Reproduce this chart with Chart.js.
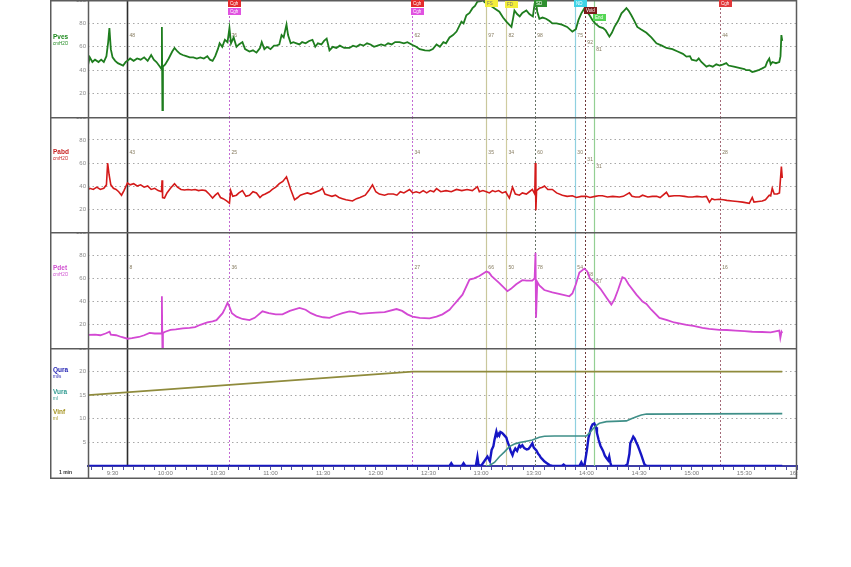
<!DOCTYPE html>
<html lang="en">
  <head>
    <meta charset="UTF-8" />
    <meta name="viewport" content="width=device-width, initial-scale=1.0" />
    <title>Urodynamics</title>
    <script src="https://cdn.jsdelivr.net/npm/chart.js@4.4.0/dist/chart.umd.min.js"></script>
    <style>
      html, body { margin: 0; padding: 0; background: #fff; }
      body { width: 851px; height: 567px; position: relative; overflow: hidden; }
      .panel { position: absolute; left: 50px; width: 748px; }
      #p1 { top: 0; height: 117px; }
      #p2 { top: 117px; height: 115px; }
      #p3 { top: 232px; height: 116px; }
      #p4 { top: 348px; height: 131px; }
    </style>
  </head>
  <body>
    <div class="panel" id="p1"><canvas id="c1"></canvas></div>
    <div class="panel" id="p2"><canvas id="c2"></canvas></div>
    <div class="panel" id="p3"><canvas id="c3"></canvas></div>
    <div class="panel" id="p4"><canvas id="c4"></canvas></div>
    <script>
      // time in seconds (x axis), pressures in cmH2O, flow ml/s, volume ml
      const tMin = 556;
      const tMax = 960;

      const pvesTime = [555.8, 557, 558.5, 560, 562, 563.5, 565, 566.5, 567.5, 568.2, 569, 570, 571.5, 573, 574.5, 576, 577.5, 578.5, 580, 582, 584, 586, 588, 590, 592, 593.5, 595, 597, 597.9, 598.1, 598.4, 598.7, 600, 602, 604, 605.3, 607, 608.5, 610, 612, 614, 616, 618, 620, 622, 624, 625.5, 627, 628.5, 630, 631, 632.5, 634, 635.5, 636.6, 637.5, 639, 640.6, 642, 644, 645.5, 648, 650, 652, 654, 655, 656.5, 658, 660, 662, 663.4, 665, 666.3, 667.5, 669.1, 670, 671.5, 673, 674.8, 676.5, 678, 680, 682, 683.9, 685.5, 687, 689, 690.5, 692, 693.6, 695.5, 697.5, 699.5, 702, 705, 707, 709, 711, 713, 715, 717, 719, 721, 723, 725, 727, 729, 731, 733.5, 736, 738, 740.9, 743, 745, 748, 750.6, 752.5, 754.6, 756.5, 758.5, 760, 762, 764, 766, 768.8, 770, 771.6, 773.4, 775.1, 776.5, 777.9, 780, 780.8, 782, 783.6, 785.5, 787.5, 790.4, 792.5, 794.4, 796, 797.3, 798.3, 799, 800.5, 802, 803.5, 805.8, 807.5, 809.5, 810.5, 811.2, 812, 813.2, 815, 817, 819, 820.6, 823, 826, 829, 832, 834, 835.5, 837.1, 838.9, 840.3, 841.8, 843.4, 845, 847.4, 849.5, 851, 853.1, 854.5, 856, 858, 860, 861.5, 862.8, 864, 865.6, 867, 869, 871, 874.2, 877, 879.9, 883, 885.6, 889, 892, 895, 897, 899, 900, 902.7, 904, 905.5, 908.4, 910, 912, 914, 916, 918, 919.7, 921, 924, 927, 930, 931.1, 933, 934.5, 936, 938, 940.2, 942, 943, 944.2, 945, 946, 948, 949.9, 950.6, 951.1, 951.6];
      const pvesVal = [43, 51, 47, 49, 47, 49, 47, 52, 64, 76, 58, 51, 48, 46, 45, 44, 47, 48, 50, 48, 50, 49, 51, 48, 53, 49, 47, 43, 41, 77, 6, 43, 45, 50, 56, 59, 56, 54, 53, 52, 51, 51, 50, 51, 50, 52, 49, 48, 52, 58, 63, 60, 66, 64, 76, 63, 68, 60, 62, 64, 58, 56, 57, 55, 59, 64, 58, 60, 58, 61, 61, 62, 70, 68, 79, 70, 63, 64, 63, 62, 64, 63, 65, 66, 60, 63, 62, 65, 67, 57, 60, 59, 61, 59, 59, 61, 60, 62, 61, 63, 62, 60, 61, 62, 61, 63, 62, 64, 64, 63, 64, 61.5, 60, 58, 57, 56.7, 58, 62, 60, 64, 63, 68, 70, 73, 81.5, 80, 87, 89, 93, 95, 98.6, 99, 100, 98, 97, 95, 93, 90, 85, 81.5, 79, 77, 85, 91, 88, 86, 89, 91, 88, 86, 97, 99, 90, 84, 85, 84, 82, 80, 80, 79, 77, 73, 75, 83, 88.6, 93, 90, 87, 83, 80, 77, 76, 74, 68.7, 72, 77, 82, 88.6, 91, 93, 91, 87, 83, 77, 75, 72, 68, 63, 61, 59, 58, 56, 54, 51.6, 52, 49, 48, 50, 47, 43, 44, 43, 45, 44, 45, 46, 44, 43, 42, 41, 40, 40, 38.5, 39, 40, 41.6, 43, 47, 50, 45, 47, 46, 47, 52, 70, 65];

      const pabdTime = [555.8, 557, 559, 561, 563, 565, 566.5, 567.2, 568, 569, 570.5, 572, 573.5, 575.1, 576.5, 578.5, 580, 582, 584, 586, 588, 590, 592, 594, 596, 597.9, 598.2, 598.5, 599.6, 601, 603, 605.3, 607, 609, 611, 613, 615, 617, 619, 621, 623, 625, 627, 628.5, 630, 631.5, 633, 635, 636.6, 637.3, 638.5, 640.6, 642, 644, 646, 648, 650, 652, 654, 655.4, 657, 659.4, 661, 663, 665, 667, 669.1, 670, 671.5, 673.7, 675.5, 677, 679, 681, 683, 686.2, 688, 689.6, 691, 693, 695, 697, 699, 701, 703, 706.7, 709, 711, 714, 716, 718.1, 720, 722, 725, 727, 730, 732, 734, 736, 739.2, 741, 743, 745, 747, 749, 751, 753, 754.6, 757, 760, 763, 766, 769, 772, 775, 777.9, 779, 781, 783, 784.7, 786.5, 788, 790, 792, 794, 796.1, 797.9, 799.5, 801.8, 803.5, 805.8, 807.5, 809.2, 810.6, 810.9, 811.2, 811.6, 813.2, 815, 816.1, 818, 820.6, 823, 826.3, 829, 832, 834.3, 837, 840, 842, 845, 847, 849.1, 852, 855, 858.8, 861, 864.5, 866, 868, 870.2, 872, 875, 877.6, 880, 882, 885.6, 887, 890, 893, 896, 898, 900.4, 903, 906, 908.4, 910.1, 911.5, 913, 915.7, 918, 920, 923.1, 926, 929, 932.8, 934.5, 935.5, 938, 940.2, 942, 944.2, 945, 945.9, 947, 948.7, 950, 951.1, 951.6];
      const pabdVal = [36.5, 38, 37, 39, 37, 38, 41, 60, 50, 41, 38, 37, 35, 32, 36, 42.6, 41, 42, 40, 41, 39, 40, 37, 38, 36, 35, 45, 30, 29.6, 34, 38, 42, 39, 37, 36.5, 37, 36.5, 37, 36, 36.5, 36, 33, 29.6, 32, 34, 30, 29, 27, 25, 36, 31, 32, 34, 36, 31, 32, 35, 34, 30, 32, 33, 35, 37, 39, 42, 44, 48, 44, 37, 28, 30, 32, 33, 34, 33, 35, 36, 38, 33, 32, 31, 32, 30, 29, 28, 27, 29, 30, 32, 36, 41, 35, 33, 32, 33, 33, 32, 35, 34, 37, 34, 35, 34, 36, 34, 36, 35, 37.7, 35, 36, 35, 37, 36, 37, 36, 39.4, 35, 36, 35, 34, 36, 35, 36, 34, 35, 29.5, 39, 33, 32, 34, 33, 35, 37, 33, 60, 19, 36, 38, 39, 40, 37, 37, 34, 32, 31, 31.5, 30, 31, 31, 30, 31, 31.5, 31.5, 30.5, 31, 30.5, 31, 34, 31, 30.5, 30.5, 32, 30.5, 31, 31, 30, 34.5, 31, 31.5, 31.5, 31, 30.5, 30.5, 31, 30.5, 31, 26, 29, 28, 28.5, 28, 27.5, 27, 26.5, 26, 25, 30, 26, 26.5, 27, 28, 32, 31.5, 38, 33, 33, 34, 57, 47];

      const pdetTime = [555.8, 560, 563, 566, 568.3, 569, 572, 575, 578.5, 581, 585, 588, 591.1, 594, 597.9, 598.1, 598.4, 598.7, 600, 603, 606, 610, 613.9, 617, 620, 624, 627, 629.2, 632.7, 634, 635.5, 636.5, 638, 640.6, 644, 648, 651, 655.4, 659, 663, 666.8, 671, 676.5, 680, 683, 686.2, 690, 693.6, 697, 701, 705, 708, 711, 716, 720, 725, 731.8, 735, 738, 740.9, 745, 750.6, 754.6, 758, 762, 763.7, 766, 769.4, 773.4, 776, 779, 781, 783, 784.5, 786, 790.4, 795, 797, 800, 803.5, 806, 809.2, 810.5, 811, 811.3, 812, 813.2, 816, 820.6, 825, 830.3, 832, 834, 836, 838.9, 840.5, 842, 845.7, 848, 851.4, 854.2, 856, 858, 860.5, 862, 864, 868.5, 872, 874.2, 877, 881.6, 886, 890, 897, 901, 906.1, 910, 915.7, 920, 925, 930, 934.5, 940, 945, 949.9, 950.5, 951.2, 951.6];
      const pdetVal = [11.3, 11.5, 11, 12.5, 14, 11.5, 11, 9.5, 8, 8.5, 9.5, 11, 13, 12.5, 12.5, 44.6, 0, 13, 14, 15.6, 16, 17, 17.4, 18, 20, 22, 23, 24, 30, 34, 39, 36, 30, 27, 25, 24, 26, 31.6, 30, 29, 29, 32, 34.5, 33, 30, 28, 26.5, 26, 28, 30, 31.6, 31, 29.5, 30, 30.5, 31, 33.6, 32, 29, 27, 26, 25.5, 27, 29, 33, 36, 40, 46, 59, 60, 62, 64, 66, 65, 62, 56, 49, 51, 55, 58.5, 58, 58, 60, 82, 26, 57, 54, 50, 48, 46.5, 44.6, 47, 55, 65, 68.4, 66, 60, 55, 51, 43.5, 37.4, 42, 50, 61, 60, 55, 46, 40, 38, 33, 26, 24, 22, 20, 19, 17.4, 16.5, 15.6, 15.5, 15, 14.5, 14, 13.8, 13.5, 15, 8.7, 14, 13];

      const quraTime = [555.8, 762, 763, 764, 769, 770, 771, 777, 777.9, 778.5, 780, 783.6, 785, 786, 787, 787.6, 788.2, 788.7, 789.3, 790, 790.4, 791, 792, 793, 794.4, 795, 796.1, 797, 797.9, 798.5, 799.5, 800.5, 801.8, 802.5, 803.5, 804.6, 806, 807, 808, 809.2, 810, 811.5, 812.5, 813.2, 814, 815, 816, 817.5, 819, 820.6, 826, 827, 828, 836, 837.1, 838, 839, 840.3, 841.2, 842.8, 843.5, 844.5, 845.5, 846, 847, 848, 849.5, 850.5, 851.4, 852.4, 853, 853.6, 854.2, 862, 863.4, 864.5, 865, 866, 866.7, 867.5, 868.3, 869.2, 870.2, 871.3, 872.2, 873, 874.2, 951.6];
      const quraVal = [0, 0, 0.6, 0, 0, 0.6, 0, 0, 1.9, 0.3, 0, 2, 1, 3.4, 4.2, 5.5, 6.5, 7.3, 6.4, 6.8, 6.5, 7.2, 7, 6.6, 6, 5.2, 4.1, 3, 2.3, 3, 3.7, 3.2, 4.4, 4, 4.4, 3.8, 3.5, 3.6, 4.1, 4.8, 3.9, 3.3, 2.6, 2.3, 1.8, 1.4, 1, 0.6, 0.2, 0, 0, 0.3, 0, 0, 0.8, 0.1, 0.4, 3.4, 6, 8.3, 8.8, 9, 8.2, 7, 5.5, 4.3, 3.2, 2.2, 1.7, 1.2, 2, 0.8, 0, 0, 0.4, 2.6, 4.8, 5.6, 6.2, 5.8, 5.1, 4.4, 3.4, 2.3, 1.3, 0.4, 0, 0];

      const vuraTime = [783, 784.7, 787.6, 790.4, 793.3, 796.1, 799, 801.8, 805.8, 809.2, 813.2, 816.1, 821.8, 840, 841.7, 843.4, 845.7, 847.4, 851.4, 862.8, 865.6, 868.5, 871.3, 874.2, 904.4, 951.6];
      const vuraVal = [0, 2, 15, 39, 60, 82, 93, 99, 105, 110, 122, 126, 127, 127, 140, 155, 172, 181, 188, 191, 200, 209, 216, 220, 221, 222];

      const vinfTime = [555.8, 740.9, 951.6];
      const vinfVal = [300, 400, 400];

      const eventTimes = [578.5, 636.6, 740.9, 783.0, 794.4, 810.9, 833.7, 839.4, 844.5, 916.3];
      const eventNames = ["", "Cgh", "Cgh", "FS", "FD", "SD", "ND", "Void", "End", "Cgh"];

      const pTicks = [20, 40, 60, 80, 100];
      const qTicks = [5, 10, 15, 20, 25];

      // how each event line looks, same order as eventTimes
      const eventStyle = [
        { color: "#2c2c2c", width: 1.6, dash: [], marks: [] },
        { color: "#c46ad4", width: 1, dash: [2, 2], marks: [["#e42a2a", 0, "#fff"], ["#e052e0", 8, "#fff"]] },
        { color: "#c46ad4", width: 1, dash: [2, 2], marks: [["#e42a2a", 0, "#fff"], ["#e052e0", 8, "#fff"]] },
        { color: "#c9c79c", width: 1.2, dash: [], marks: [["#f2ee3a", 0, "#777"]] },
        { color: "#cfcca0", width: 1.2, dash: [], marks: [["#f2ee3a", 1, "#777"]] },
        { color: "#687468", width: 1, dash: [2, 2], marks: [["#2f8f2f", 0, "#fff"]] },
        { color: "#8fd0e0", width: 1.2, dash: [], marks: [["#3fd3e6", 0, "#fff"]] },
        { color: "#6e3838", width: 1, dash: [2, 2], marks: [["#7c1c1c", 7, "#fff"]] },
        { color: "#93cf93", width: 1.2, dash: [], marks: [["#55d655", 14, "#fff"]] },
        { color: "#a46a78", width: 1, dash: [2, 2], marks: [["#e2383a", 0, "#fff"]] },
      ];
      const labelDrop = [0, 0, 0, 0, 0, 0, 0, 7, 14, 0];

      const FONT = "Liberation Sans, Arial, sans-serif";

      const toPoints = function (times, vals) {
        return times.map(function (t, i) {
          return { x: t, y: vals[i] };
        });
      };

      const valueAt = function (times, vals, t) {
        for (let i = 1; i < times.length; i++) {
          if (times[i] >= t) {
            const f = (t - times[i - 1]) / (times[i] - times[i - 1]);
            return vals[i - 1] + f * (vals[i] - vals[i - 1]);
          }
        }
        return vals[vals.length - 1];
      };

      const fmtTime = function (v) {
        const s = Math.round(v);
        const m = Math.floor(s / 60);
        const r = s % 60;
        return m + ":" + (r < 10 ? "0" + r : r);
      };

      // panel frame, event lines, side labels, markers
      const tracePlugin = {
        id: "trace",
        beforeDatasetsDraw(chart, args, opts) {
          const { ctx, chartArea: a } = chart;
          const x = chart.scales.x;
          ctx.save();
          eventTimes.forEach(function (t, i) {
            const st = eventStyle[i];
            const px = Math.round(x.getPixelForValue(t)) + 0.5;
            ctx.strokeStyle = st.color;
            ctx.lineWidth = st.width;
            ctx.setLineDash(st.dash);
            ctx.beginPath();
            ctx.moveTo(px, a.top);
            ctx.lineTo(px, a.bottom);
            ctx.stroke();
          });
          ctx.setLineDash([]);
          // value readouts next to the event lines
          if (opts.readout) {
            ctx.font = "5px " + FONT;
            ctx.fillStyle = "#857a5e";
            ctx.textBaseline = "middle";
            eventTimes.forEach(function (t, i) {
              const px = x.getPixelForValue(t);
              const v = Math.round(valueAt(opts.readout[0], opts.readout[1], t));
              ctx.fillText(String(v), px + 2, a.top + 36 + labelDrop[i]);
            });
          }
          ctx.restore();
        },
        afterDraw(chart, args, opts) {
          const { ctx, chartArea: a } = chart;
          const x = chart.scales.x;
          ctx.save();
          ctx.strokeStyle = "#5c5c5c";
          ctx.lineWidth = 1.5;
          ctx.beginPath();
          ctx.moveTo(0, a.top + 0.75);
          ctx.lineTo(a.right, a.top + 0.75);
          ctx.moveTo(a.left + 0.5, a.top);
          ctx.lineTo(a.left + 0.5, chart.height);
          ctx.moveTo(a.right - 0.5, 0);
          ctx.lineTo(a.right - 0.5, chart.height);
          ctx.moveTo(0.75, 0);
          ctx.lineTo(0.75, chart.height);
          if (opts.bottom) {
            ctx.moveTo(0, chart.height - 0.75);
            ctx.lineTo(a.right, chart.height - 0.75);
          }
          ctx.stroke();
          (opts.side || []).forEach(function (s) {
            ctx.font = (s.bold ? "bold " : "") + s.size + "px " + FONT;
            ctx.fillStyle = s.color;
            ctx.textBaseline = "middle";
            ctx.fillText(s.text, s.x, s.y);
          });
          if (opts.markers) {
            eventTimes.forEach(function (t, i) {
              const px = Math.round(x.getPixelForValue(t));
              eventStyle[i].marks.forEach(function (m) {
                ctx.fillStyle = m[0];
                ctx.fillRect(px - 1, m[1], 13, 7);
                ctx.font = "4.5px " + FONT;
                ctx.fillStyle = m[2];
                ctx.textBaseline = "middle";
                ctx.fillText(eventNames[i], px + 1, m[1] + 3.7);
              });
            });
          }
          ctx.restore();
        },
      };

      const xAxis = function (show) {
        return {
          type: "linear",
          min: tMin,
          max: tMax,
          display: show,
          afterBuildTicks: function (s) {
            const list = [];
            for (let v = 558; v <= tMax; v += 6) list.push({ value: v });
            s.ticks = list;
          },
          afterFit: function (s) {
            s.height = show ? 13 : 0;
            s.paddingLeft = 0;
            s.paddingRight = 0;
          },
          ticks: {
            autoSkip: false,
            maxRotation: 0,
            padding: 0,
            color: "#7a7a7a",
            font: { size: 6, family: FONT },
            callback: function (v) {
              return Math.round(v) % 30 === 0 ? fmtTime(v) : "";
            },
          },
          grid: { drawOnChartArea: false, drawTicks: true, tickLength: 4, color: "#4b4ba6", lineWidth: 1 },
          border: { display: true, color: "#3d3da6", width: 2 },
        };
      };

      const yAxis = function (max, tickList) {
        return {
          min: 0,
          max: max,
          afterBuildTicks: function (s) {
            s.ticks = [{ value: 0 }].concat(tickList.map(function (v) { return { value: v }; }));
          },
          afterFit: function (s) {
            s.width = 38;
            s.paddingTop = 0;
            s.paddingBottom = 0;
          },
          ticks: {
            padding: 2,
            color: "#8c8c8c",
            font: { size: 6, family: FONT },
            callback: function (v) {
              return v === 0 ? "" : v;
            },
          },
          grid: {
            drawTicks: false,
            lineWidth: 1,
            color: function (c) {
              return c.tick && (c.tick.value === 0 || c.tick.value === max) ? "rgba(0,0,0,0)" : "#a8a8a8";
            },
          },
          border: { display: false, dash: [1.5, 3] },
        };
      };

      const makeChart = function (id, datasets, scales, trace) {
        return new Chart(document.getElementById(id), {
          type: "line",
          data: { datasets: datasets },
          options: {
            animation: false,
            responsive: true,
            maintainAspectRatio: false,
            layout: { padding: { top: 0, left: 0, right: 1, bottom: 0 } },
            elements: { point: { radius: 0 }, line: { tension: 0 } },
            plugins: { legend: { display: false }, tooltip: { enabled: false }, trace: trace },
            scales: scales,
          },
          plugins: [tracePlugin],
        });
      };

      const sideLabel = function (name, unit, color, y) {
        return [
          { text: name, color: color, size: 6.5, bold: true, x: 3, y: y },
          { text: unit, color: color, size: 4.5, bold: false, x: 3, y: y + 7 },
        ];
      };

      makeChart(
        "c1",
        [{ data: toPoints(pvesTime, pvesVal), borderColor: "#1e7d1e", borderWidth: 1.8 }],
        { x: xAxis(false), y: yAxis(100, pTicks) },
        { side: sideLabel("Pves", "cmH2O", "#1f8a1f", 37), markers: true, readout: [pvesTime, pvesVal] }
      );

      makeChart(
        "c2",
        [{ data: toPoints(pabdTime, pabdVal), borderColor: "#d41a1a", borderWidth: 1.6 }],
        { x: xAxis(false), y: yAxis(100, pTicks) },
        { side: sideLabel("Pabd", "cmH2O", "#c82222", 35), readout: [pabdTime, pabdVal] }
      );

      makeChart(
        "c3",
        [{ data: toPoints(pdetTime, pdetVal), borderColor: "#d348d3", borderWidth: 1.8 }],
        { x: xAxis(false), y: yAxis(100, pTicks) },
        { side: sideLabel("Pdet", "cmH2O", "#d050d0", 36), readout: [pdetTime, pdetVal] }
      );

      makeChart(
        "c4",
        [
          { data: toPoints(vinfTime, vinfVal), borderColor: "#8f8b3c", borderWidth: 1.6, yAxisID: "yV" },
          { data: toPoints(vuraTime, vuraVal), borderColor: "#3f8f88", borderWidth: 1.6, yAxisID: "yV" },
          { data: toPoints(quraTime, quraVal), borderColor: "#1616c4", borderWidth: 2.4, yAxisID: "y" },
        ],
        {
          x: xAxis(true),
          y: yAxis(25, qTicks),
          yV: { display: false, min: 0, max: 500 },
        },
        {
          bottom: true,
          side: sideLabel("Qura", "ml/s", "#2424b4", 22)
            .concat(sideLabel("Vura", "ml", "#2f9a90", 44))
            .concat(sideLabel("Vinf", "ml", "#a4921e", 64))
            .concat([{ text: "1 min", color: "#333", size: 5, bold: true, x: 9, y: 125 }]),
        }
      );
    </script>
  </body>
</html>
